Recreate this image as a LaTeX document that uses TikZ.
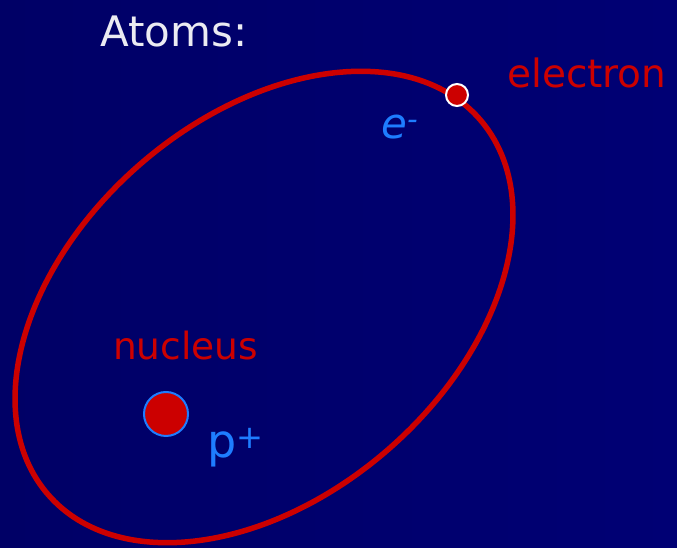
\documentclass[tikz,border=0pt]{standalone}
\usepackage{fontspec}
\setmainfont{DejaVu Sans}
\usetikzlibrary{positioning}
\definecolor{bgnavy}{RGB}{0,0,102}
\definecolor{bgright}{RGB}{0,0,116}
\definecolor{orbitred}{RGB}{204,0,0}
\definecolor{chargeblue}{RGB}{30,125,255}
\definecolor{titlegray}{RGB}{235,235,242}

\begin{document}
\begin{tikzpicture}[x=1pt, y=1pt,
titletext/.style={anchor=base west, inner sep=0pt, text=titlegray, font=\fontsize{42}{50}\selectfont},
redtext/.style={anchor=base west, inner sep=0pt, text=orbitred, font=\fontsize{39}{47}\selectfont},
bluetext/.style={anchor=base west, inner sep=0pt, text=chargeblue, font=\fontsize{42}{50}\selectfont},
orbit/.style={draw=orbitred, line width=5.5pt},
particle/.style={circle, fill=orbitred, draw=white, line width=2pt, minimum size=22pt, inner sep=0pt},
core/.style={circle, fill=orbitred, draw=chargeblue, line width=2pt, minimum size=44pt, inner sep=0pt}
]
% background
\shade[left color=bgnavy, right color=bgright] (0,0) rectangle (677,548);
\useasboundingbox (0,0) rectangle (677,548);

% orbit
\draw[orbit, rotate around={41:(264,241)}] (264,241) ellipse (286 and 189);

% particles
\node[particle] (electron) at (457,453) {};
\node[core] (nucleus) at (166,134) {};

% labels
\node[titletext] (title) at (100,501) {Atoms:};
\node[redtext] (electronlabel) at (507,460) {electron};
\node[redtext, font=\fontsize{37.5}{45}\selectfont] (nucleuslabel) at (113,188) {nucleus};
\node[bluetext] (echarge) at (381,409) {\itshape e\textsuperscript{-}};
\node[bluetext, font=\fontsize{46}{54}\selectfont] (pcharge) at (207,90) {p\textsuperscript{+}};
\end{tikzpicture}
\end{document}
